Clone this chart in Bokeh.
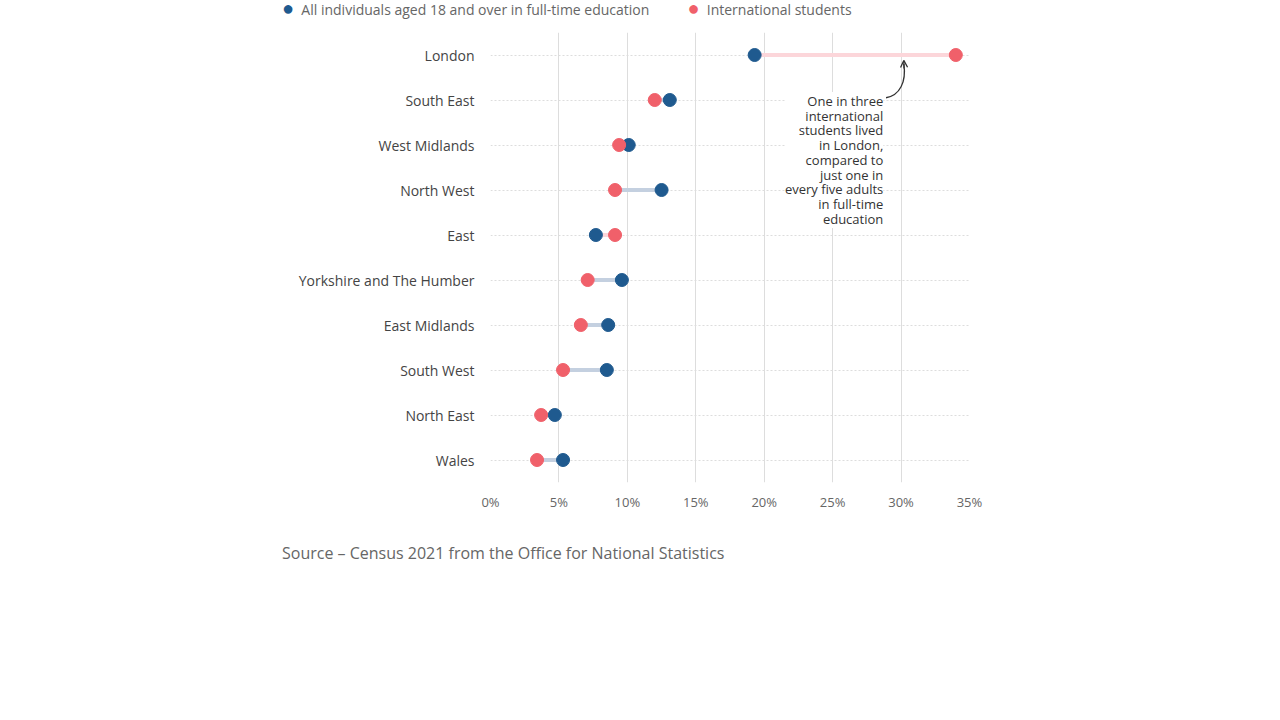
from bokeh.plotting import figure
from bokeh.models import Range1d, Label, FixedTicker, Arrow, OpenHead, Div
from bokeh.layouts import column
from bokeh.embed import file_html
from bokeh.resources import INLINE

regions = ["London","South East","West Midlands","North West","East","Yorkshire and The Humber",
           "East Midlands","South West","North East","Wales"]
all_ft = [19.3,13.1,10.1,12.5,7.7,9.6,8.6,8.5,4.7,5.3]
intl = [34.0,12.0,9.4,9.1,9.1,7.1,6.6,5.3,3.7,3.4]
xticks = [0,5,10,15,20,25,30,35]

BLUE="#1f5a8f"; RED="#f0606a"; LBLUE="#c4d0e0"; LRED="#fcd6da"
F="Open Sans"
ys=list(range(len(regions)))

legend=Div(width=1000,height=22,margin=(0,0,0,0),styles={"font-family":F,"font-size":"14px","color":"#666666"},
    text=f'<div style="margin-left:282px;margin-top:-6px;white-space:nowrap">'
         f'<span style="color:{BLUE};font-size:20px">●</span>&nbsp; All individuals aged 18 and over in full-time education'
         f'<span style="display:inline-block;width:38px"></span>'
         f'<span style="color:{RED};font-size:20px">●</span>&nbsp; International students</div>')

p=figure(width=1000,height=500,x_range=Range1d(0,35),y_range=Range1d(9.5,-0.5),
         output_backend="svg",toolbar_location=None,min_border_left=490,min_border_right=31,
         min_border_top=10,min_border_bottom=40,margin=(0,0,0,0))
p.outline_line_color=None
p.xgrid.grid_line_color="#dddddd"
p.ygrid.grid_line_color="#dddddd"; p.ygrid.grid_line_dash="2 2"
p.xaxis.ticker=FixedTicker(ticks=xticks)
p.xaxis.major_label_overrides={t:f"{t}%" for t in xticks}
p.yaxis.ticker=FixedTicker(ticks=ys)
p.yaxis.major_label_overrides={i:r for i,r in enumerate(regions)}
for ax in (p.xaxis[0],p.yaxis[0]):
    ax.axis_line_color=None; ax.major_tick_line_color=None; ax.minor_tick_line_color=None
    ax.major_label_text_font=F
p.xaxis.major_label_text_font_size="13px"; p.yaxis.major_label_text_font_size="14px"
p.xaxis.major_label_text_color="#666666"; p.yaxis.major_label_text_color="#444444"
p.yaxis.major_label_standoff=10; p.xaxis.major_label_standoff=4

x0=[min(a,b) for a,b in zip(all_ft,intl)]; x1=[max(a,b) for a,b in zip(all_ft,intl)]
cols=[LRED if b>a else LBLUE for a,b in zip(all_ft,intl)]
p.segment(x0=x0,x1=x1,y0=ys,y1=ys,line_color=cols,line_width=4)
p.scatter(all_ft,ys,size=13,color=BLUE)
p.scatter(intl,ys,size=13,color=RED)

p.add_layout(Label(x=28.7,y=0.82,text="One in three\ninternational\nstudents lived\nin London,\ncompared to\njust one in\nevery five adults\nin full-time\neducation",
    text_align="right",text_baseline="top",text_font=F,text_font_size="13px",text_color="#333333",
    text_line_height=0.82,background_fill_color="white"))
p.bezier(x0=[28.9],y0=[0.95],x1=[30.2],y1=[0.2],cx0=[29.9],cy0=[0.9],cx1=[30.4],cy1=[0.6],line_color="#333333",line_width=1.3)
p.add_layout(Arrow(end=OpenHead(size=7,line_color="#333333",line_width=1.3),x_start=30.22,y_start=0.3,x_end=30.2,y_end=0.12,line_color="#333333",line_width=1.3))

source=Div(width=1000,height=30,margin=(0,0,0,0),styles={"font-family":F,"font-size":"16px","color":"#666666"},
    text='<div style="margin-left:282px;margin-top:20px">Source – Census 2021 from the Office for National Statistics</div>')

open("out.html","w").write(file_html(column(legend,p,source,spacing=0),INLINE))
